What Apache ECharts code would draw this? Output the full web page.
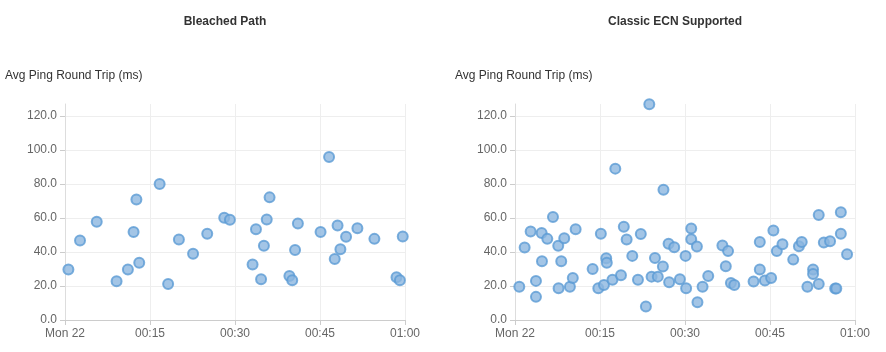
<!DOCTYPE html>
<html>
<head>
<meta charset="utf-8">
<script src="https://cdn.jsdelivr.net/npm/echarts@6/dist/echarts.min.js"></script>
<style>
  html, body { margin: 0; padding: 0; background: #fff; }
  #chart { width: 886px; height: 352px; }
</style>
</head>
<body>
<div id="chart"></div>
<script>
// minutes after midnight, Mon 22
const bleachedMinutes = [0.6, 2.65, 5.6, 9.1, 11.1, 12.1, 12.6, 13.1, 16.7, 18.2, 20.1, 22.6, 25.1, 28.1, 29.1,
  33.1, 33.7, 34.6, 35.1, 35.6, 36.1, 39.6, 40.1, 40.6, 41.1, 45.1, 46.6, 47.6, 48.1, 48.6, 49.6, 51.6, 54.6,
  58.5, 59.1, 59.6]
const bleachedPing = [29.7, 46.7, 57.7, 22.8, 29.7, 51.8, 70.9, 33.6, 79.9, 21.2, 47.3, 38.9, 50.7, 60.1, 58.9,
  32.6, 53.4, 24.0, 43.6, 59.1, 72.1, 25.9, 23.4, 41.2, 56.8, 51.7, 95.8, 35.9, 55.6, 41.6, 48.9, 54.0, 47.7,
  25.1, 23.4, 49.1]

const classicMinutes = [0.76, 1.7, 2.76, 3.7, 3.7, 4.7, 4.76, 5.7, 6.7, 7.63, 7.69, 8.16, 8.69, 9.69, 10.2, 10.7,
  13.7, 14.7, 15.15, 15.7, 16.1, 16.2, 17.2, 17.7, 18.7, 19.2, 19.7, 20.7, 21.7, 22.2, 23.1, 23.7, 24.1, 24.7,
  25.2, 26.1, 26.2, 27.1, 27.2, 28.1, 29.1, 30.1, 30.2, 31.1, 31.1, 32.1, 32.2, 33.1, 34.1, 36.6, 37.2, 37.6,
  38.1, 38.7, 42.1, 43.2, 43.2, 44.1, 45.2, 45.6, 46.2, 47.2, 49.1, 50.1, 50.6, 51.6, 52.6, 52.6, 53.6, 53.6,
  54.5, 55.6, 56.5, 56.7, 57.5, 57.5, 58.6]
const classicPing = [19.6, 42.6, 52.0, 23.0, 13.6, 51.1, 34.6, 47.7, 60.5, 43.6, 18.7, 34.6, 48.1, 19.6, 24.7, 53.4,
  30.0, 18.7, 50.7, 20.6, 36.3, 33.6, 23.6, 89.0, 26.3, 54.8, 47.3, 37.7, 23.6, 50.5, 7.9, 126.9, 25.5, 36.5,
  25.5, 31.4, 76.6, 44.8, 22.2, 42.8, 24.0, 37.7, 18.7, 53.8, 47.5, 43.2, 10.4, 19.6, 25.9, 43.8, 31.6, 40.5,
  21.8, 20.6, 22.6, 45.8, 29.7, 23.2, 24.7, 52.6, 40.5, 44.6, 35.5, 43.4, 45.8, 19.6, 29.7, 27.1, 61.7, 21.2,
  45.6, 46.3, 18.5, 18.5, 63.4, 50.7, 38.7]

const titles = ["Bleached Path", "Classic ECN Supported"]
const yName = "Avg Ping Round Trip (ms)"
const yMax = 127
const dayNames = ["Sun", "Mon", "Tue", "Wed", "Thu", "Fri", "Sat"]

const start = new Date(2021, 10, 22, 0, 0, 0).getTime()
const end = new Date(2021, 10, 22, 1, 0, 0).getTime()
const tickStep = 15 * 60000
const toPoints = (mins, vals) => mins.map((m, i) => [start + m * 60000, vals[i]])

const pad = (n) => (n < 10 ? "0" : "") + n
function timeLabel(value) {
  const d = new Date(value)
  if (d.getHours() === 0 && d.getMinutes() === 0) return dayNames[d.getDay()] + " " + d.getDate()
  return pad(d.getHours()) + ":" + pad(d.getMinutes())
}

const grids = [
  { left: 65, right: 481, top: 104, bottom: 32 },
  { left: 515, right: 31, top: 104, bottom: 32 }
]

const font = "Liberation Sans, Arial, sans-serif"
const axisLabel = { color: "#666", fontSize: 12, fontFamily: font }

const myChart = echarts.init(document.getElementById("chart"))
myChart.setOption({
  animation: false,
  title: [
    { text: titles[0], left: 220, top: 11, textAlign: "center",
      textStyle: { fontSize: 12, fontWeight: "bold", color: "#333", fontFamily: font } },
    { text: titles[1], left: 670, top: 11, textAlign: "center",
      textStyle: { fontSize: 12, fontWeight: "bold", color: "#333", fontFamily: font } }
  ],
  grid: grids,
  xAxis: [0, 1].map((i) => ({
    type: "value",
    gridIndex: i,
    min: start,
    max: end,
    interval: tickStep,
    axisLine: { lineStyle: { color: "#ccc" } },
    axisTick: { show: true, lineStyle: { color: "#ccc" } },
    axisLabel: Object.assign({ formatter: timeLabel, hideOverlap: false, margin: 8,
      showMinLabel: true, showMaxLabel: true }, axisLabel),
    splitLine: { show: true, lineStyle: { color: "#eee" } }
  })),
  yAxis: [0, 1].map((i) => ({
    type: "value",
    gridIndex: i,
    min: 0,
    max: yMax,
    interval: 20,
    name: yName,
    nameLocation: "end",
    nameGap: 22,
    nameTextStyle: { color: "#333", fontSize: 12, align: "left", padding: [0, 0, 0, -60], fontFamily: font },
    axisLine: { show: true, lineStyle: { color: "#ddd" } },
    axisTick: { show: true, lineStyle: { color: "#ccc" } },
    axisLabel: Object.assign({ formatter: (v) => v.toFixed(1), showMaxLabel: false }, axisLabel),
    splitLine: { show: true, showMaxLine: false, lineStyle: { color: "#eee" } }
  })),
  series: [
    {
      name: titles[0],
      type: "scatter",
      xAxisIndex: 0,
      yAxisIndex: 0,
      symbolSize: 10,
      itemStyle: { color: "#8cb6e0", borderColor: "#5b9bd5", borderWidth: 2 },
      data: toPoints(bleachedMinutes, bleachedPing)
    },
    {
      name: titles[1],
      type: "scatter",
      xAxisIndex: 1,
      yAxisIndex: 1,
      symbolSize: 10,
      itemStyle: { color: "#8cb6e0", borderColor: "#5b9bd5", borderWidth: 2 },
      data: toPoints(classicMinutes, classicPing)
    }
  ]
})
</script>
</body>
</html>
